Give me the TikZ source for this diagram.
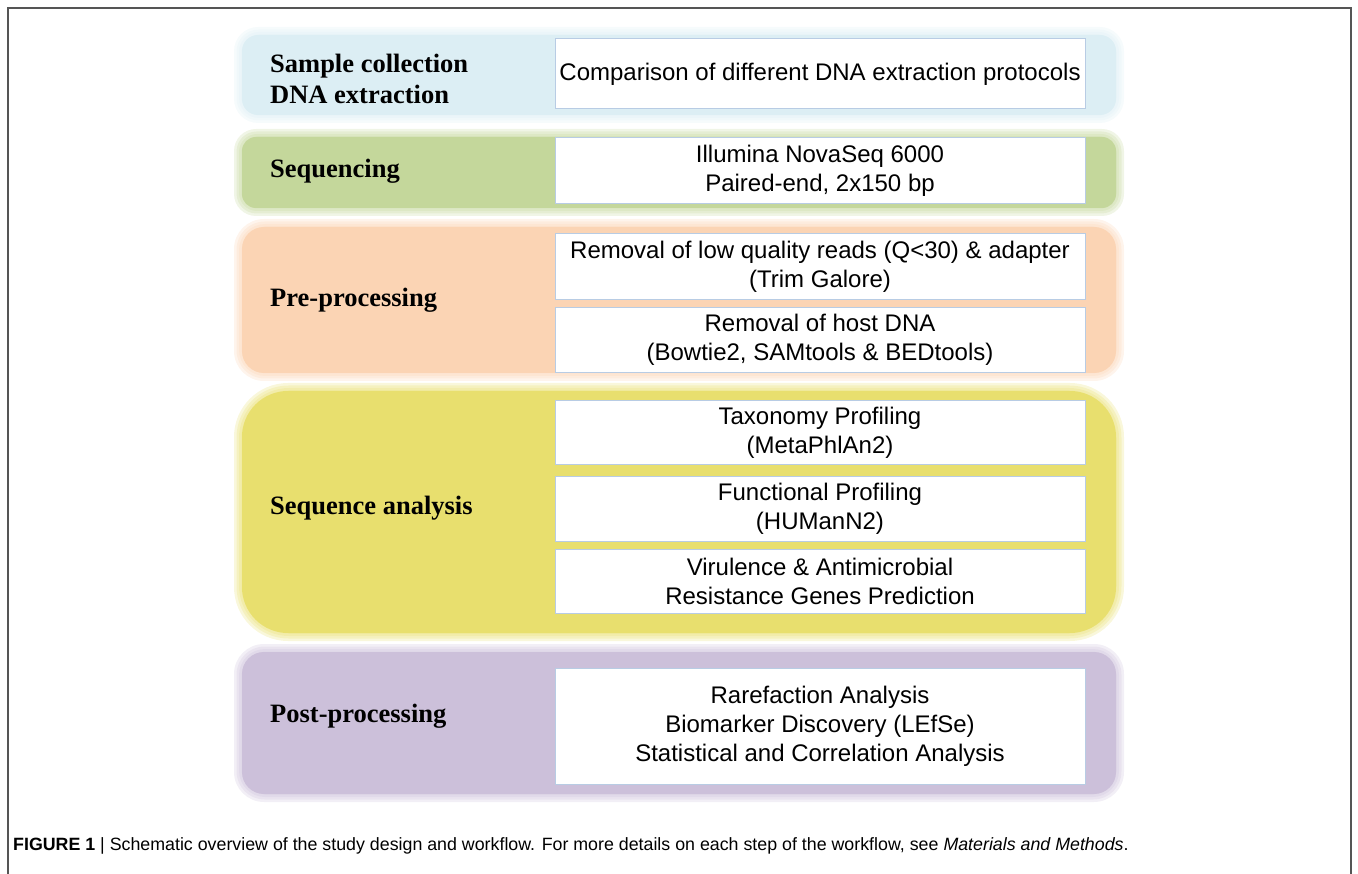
\documentclass[tikz,border=0pt]{standalone}
\usepackage{fontspec}
\setmainfont{Liberation Sans}
\newfontfamily\headfont{Liberation Serif}
\usetikzlibrary{positioning}

\definecolor{bandblue}{HTML}{DCEEF4}
\definecolor{bandgreen}{HTML}{C4D79B}
\definecolor{bandpeach}{HTML}{FBD4B4}
\definecolor{bandyellow}{HTML}{E8DF6E}
\definecolor{bandpurple}{HTML}{CCC0DA}
\definecolor{boxedge}{HTML}{B8CCE4}
\definecolor{framegray}{HTML}{555555}

% soft edged stage band: x1 y1 x2 y2 colour radius
\newcommand{\softband}[6]{%
  \foreach \g in {1,...,4}
    \fill[#5, opacity=0.25, rounded corners={(#6+\g*2)*1pt}] (#1+6-\g*2.5,#2+6-\g*2.5) rectangle (#3-6+\g*2.5,#4-6+\g*2.5);
  \fill[#5, rounded corners=#6pt] (#1+4,#2+4) rectangle (#3-4,#4-4);
}

\tikzset{
  stagebox/.style={draw=boxedge, line width=1pt, fill=white, minimum width=530pt, inner sep=0pt, align=center, font=\fontsize{24}{29}\selectfont},
  stagename/.style={anchor=west, align=left, inner sep=0pt, font=\headfont\bfseries\fontsize{26.5}{31}\selectfont},
}

\begin{document}
\begin{tikzpicture}[x=1pt,y=-1pt]
\useasboundingbox (0,0) rectangle (1358,874);
\draw[framegray, line width=1.2pt] (8,874) |- (1351,8) -- (1351,874);

\softband{238}{31}{1120}{119}{bandblue}{16}
\softband{238}{133}{1120}{212}{bandgreen}{14}
\softband{238}{223}{1120}{377}{bandpeach}{22}
\softband{238}{387}{1120}{637}{bandyellow}{46}
\softband{238}{648}{1120}{798}{bandpurple}{22}

\node[stagename] (sample) at (270,79) {Sample collection\\DNA extraction};
\node[stagename] (seq) at (270,171) {Sequencing};
\node[stagename] (pre) at (270,300) {Pre-processing};
\node[stagename] (ana) at (270,508) {Sequence analysis};
\node[stagename] (post) at (270,716) {Post-processing};

\foreach \n/\y/\h/\t in {
    extract/74/70/{Comparison of different DNA extraction protocols},
    illumina/171/66/{Illumina NovaSeq 6000\\Paired-end, 2x150 bp},
    trim/267/66/{Removal of low quality reads (Q<30) \& adapter\\(Trim Galore)},
    host/340/65/{Removal of host DNA\\(Bowtie2, SAMtools \& BEDtools)},
    taxa/433/64/{Taxonomy Profiling\\(MetaPhlAn2)},
    func/509/64/{Functional Profiling\\(HUManN2)},
    vir/581/64/{Virulence \& Antimicrobial\\Resistance Genes Prediction},
    stats/726/116/{Rarefaction Analysis\\Biomarker Discovery (LEfSe)\\Statistical and Correlation Analysis}}
  \node[stagebox, minimum height=\h pt] (\n) at (820,\y) {\t};

\node[anchor=west, inner sep=0pt, font=\fontsize{17.8}{21}\selectfont] (caption) at (13,846)
  {\textbf{FIGURE 1} | Schematic overview of the study design and workflow. For more details on each step of the workflow, see \textit{Materials and Methods}.};
\end{tikzpicture}
\end{document}
